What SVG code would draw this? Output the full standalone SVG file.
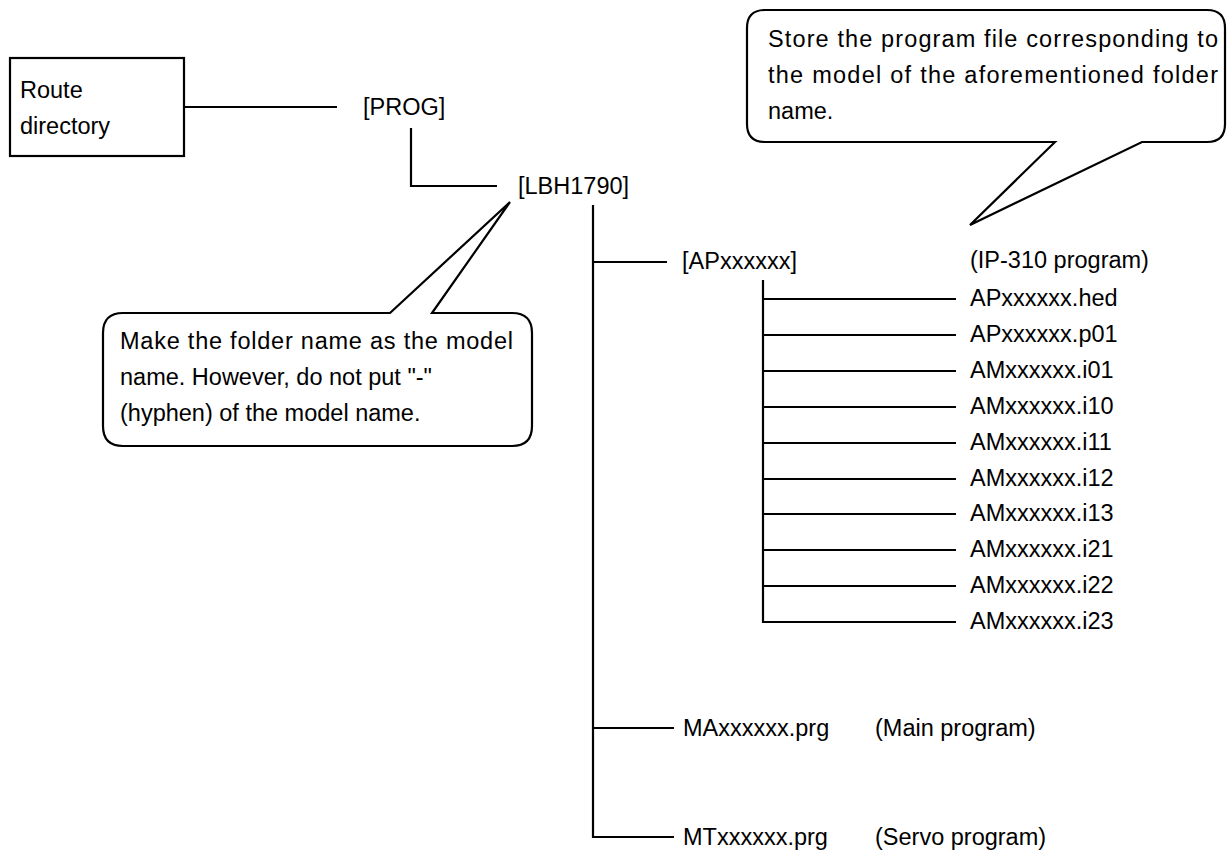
<svg xmlns="http://www.w3.org/2000/svg" width="1227" height="850" viewBox="0 0 1227 850">
<style>
text{font-family:"Liberation Sans",Arial,sans-serif;font-size:23.5px;fill:#000}
.ln{stroke:#000;stroke-width:2.2;fill:none}
.bx{stroke:#000;stroke-width:2.2;fill:#fff}
</style>
<rect width="1227" height="850" fill="#fff"/>
<g id="connectors">
<path class="ln" d="M184 107H337"/>
<path class="ln" d="M411 128V186H497"/>
<path class="ln" d="M593 205V837H674"/>
<path class="ln" d="M593 262H667"/>
<path class="ln" d="M593 728H674"/>
<path class="ln" d="M763 280V622H956"/>
<path class="ln" d="M763 299H956M763 335H956M763 371H956M763 407H956M763 443H956M763 479H956M763 514H956M763 550H956M763 586H956"/>
</g>
<g id="route">
<rect class="bx" x="10" y="58" width="174" height="98"/>
<text x="20" y="98">Route</text>
<text x="20" y="134">directory</text>
</g>
<g id="prog"><text x="363" y="115">[PROG]</text></g>
<g id="lbh"><text x="518" y="194">[LBH1790]</text></g>
<g id="ap"><text x="682" y="269">[APxxxxxx]</text><text x="970" y="268">(IP-310 program)</text></g>
<g id="files">
<text x="970" y="306">APxxxxxx.hed</text>
<text x="970" y="342">APxxxxxx.p01</text>
<text x="970" y="378">AMxxxxxx.i01</text>
<text x="970" y="414">AMxxxxxx.i10</text>
<text x="970" y="450">AMxxxxxx.i11</text>
<text x="970" y="486">AMxxxxxx.i12</text>
<text x="970" y="521">AMxxxxxx.i13</text>
<text x="970" y="557">AMxxxxxx.i21</text>
<text x="970" y="593">AMxxxxxx.i22</text>
<text x="970" y="629">AMxxxxxx.i23</text>
</g>
<g id="ma"><text x="683" y="736">MAxxxxxx.prg</text><text x="875" y="736">(Main program)</text></g>
<g id="mt"><text x="683" y="845">MTxxxxxx.prg</text><text x="875" y="845">(Servo program)</text></g>
<g id="note-left">
<path class="bx" d="M390 313L510 202L432 313H512Q532 313 532 333V426Q532 446 512 446H123Q103 446 103 426V333Q103 313 123 313Z"/>
<text x="120" y="349" textLength="393" lengthAdjust="spacing">Make the folder name as the model</text>
<text x="120" y="385">name. However, do not put "-"</text>
<text x="120" y="421">(hyphen) of the model name.</text>
</g>
<g id="note-right">
<path class="bx" d="M1055 142L970 225L1142 142H1207Q1225 142 1225 124V28Q1225 10 1207 10H765Q747 10 747 28V124Q747 142 765 142Z"/>
<text x="768" y="47" textLength="450" lengthAdjust="spacing">Store the program file corresponding to</text>
<text x="768" y="83" textLength="450" lengthAdjust="spacing">the model of the aforementioned folder</text>
<text x="768" y="119">name.</text>
</g>
</svg>
